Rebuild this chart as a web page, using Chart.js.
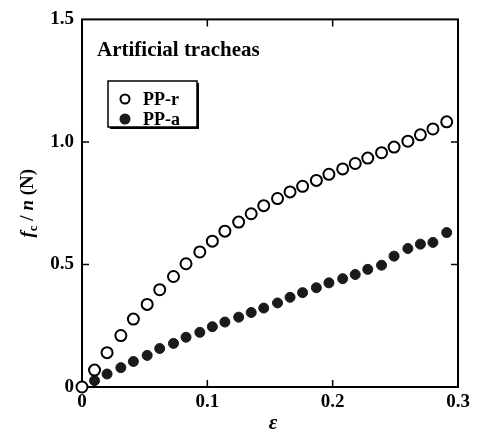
<!DOCTYPE html>
<html>
<head>
<meta charset="utf-8">
<script src="https://cdn.jsdelivr.net/npm/chart.js@4/dist/chart.umd.min.js"></script>
<style>
  html, body { margin: 0; padding: 0; background: #fff; }
  canvas { display: block; }
</style>
</head>
<body>
<canvas id="chart" width="478" height="434"></canvas>
<script>
// PP-r (open circles)
const strainR = [0, 0.010, 0.020, 0.031, 0.041, 0.052, 0.062, 0.073, 0.083, 0.094,
                 0.104, 0.114, 0.125, 0.135, 0.145, 0.156, 0.166, 0.176, 0.187, 0.197,
                 0.208, 0.218, 0.228, 0.239, 0.249, 0.260, 0.270, 0.280, 0.291];
const forceR = [0, 0.069, 0.140, 0.210, 0.277, 0.337, 0.397, 0.451, 0.503, 0.551,
                0.595, 0.636, 0.673, 0.707, 0.740, 0.769, 0.796, 0.819, 0.843, 0.868,
                0.890, 0.912, 0.934, 0.956, 0.979, 1.003, 1.029, 1.053, 1.082];
// PP-a (filled circles)
const strainA = [0.010, 0.020, 0.031, 0.041, 0.052, 0.062, 0.073, 0.083, 0.094,
                 0.104, 0.114, 0.125, 0.135, 0.145, 0.156, 0.166, 0.176, 0.187, 0.197,
                 0.208, 0.218, 0.228, 0.239, 0.249, 0.260, 0.270, 0.280, 0.291];
const forceA = [0.026, 0.053, 0.079, 0.104, 0.129, 0.157, 0.178, 0.203, 0.223,
                0.246, 0.265, 0.285, 0.304, 0.322, 0.343, 0.366, 0.385, 0.405, 0.425,
                0.442, 0.459, 0.480, 0.497, 0.534, 0.565, 0.583, 0.590, 0.630];

const xTicks = [0, 0.1, 0.2, 0.3];
const xTickLabels = ["0", "0.1", "0.2", "0.3"];
const yTicks = [0, 0.5, 1.0, 1.5];
const yTickLabels = ["0", "0.5", "1.0", "1.5"];

const serif = '"Liberation Serif", "DejaVu Serif", serif';
const tickFont = { family: serif, size: 19, weight: 'bold' };

function toPoints(xs, ys) {
    return xs.map((x, i) => ({ x: x, y: ys[i] }));
}

// frame + inward ticks, drawn under the markers
const framePlugin = {
    id: 'frame',
    beforeDatasetsDraw(chart) {
        const { ctx, chartArea: a, scales } = chart;
        ctx.save();
        ctx.strokeStyle = '#000';
        ctx.lineWidth = 2;
        ctx.strokeRect(a.left, a.top, a.right - a.left, a.bottom - a.top);
        ctx.lineWidth = 1.5;
        ctx.beginPath();
        xTicks.slice(1, -1).forEach(v => {
            const px = scales.x.getPixelForValue(v);
            ctx.moveTo(px, a.bottom); ctx.lineTo(px, a.bottom - 7);
            ctx.moveTo(px, a.top); ctx.lineTo(px, a.top + 7);
        });
        yTicks.slice(1, -1).forEach(v => {
            const py = scales.y.getPixelForValue(v);
            ctx.moveTo(a.left, py); ctx.lineTo(a.left + 7, py);
            ctx.moveTo(a.right, py); ctx.lineTo(a.right - 7, py);
        });
        ctx.stroke();
        ctx.restore();
    }
};

// annotation, legend box, axis titles
const textPlugin = {
    id: 'texts',
    afterDraw(chart) {
        const { ctx, chartArea: a } = chart;
        ctx.save();
        ctx.fillStyle = '#000';

        ctx.font = 'bold 21px ' + serif;
        ctx.textBaseline = 'alphabetic';
        ctx.fillText('Artificial tracheas', a.left + 15, 56);

        // legend box with shadow
        const bx = 108, by = 81, bw = 89, bh = 46;
        ctx.fillStyle = '#000';
        ctx.fillRect(bx + 2, by + 2, bw, bh);
        ctx.fillStyle = '#fff';
        ctx.fillRect(bx, by, bw, bh);
        ctx.strokeStyle = '#000';
        ctx.lineWidth = 1.5;
        ctx.strokeRect(bx, by, bw, bh);

        ctx.font = 'bold 18px ' + serif;
        ctx.textBaseline = 'middle';
        chart.data.datasets.forEach((ds, i) => {
            const cy = by + 18 + i * 20;
            ctx.beginPath();
            ctx.arc(bx + 17, cy, 4.5, 0, Math.PI * 2);
            ctx.fillStyle = ds.backgroundColor;
            ctx.fill();
            ctx.lineWidth = 2;
            ctx.strokeStyle = ds.borderColor;
            ctx.stroke();
            ctx.fillStyle = '#000';
            ctx.fillText(ds.label, bx + 35, cy + 1);
        });

        // x title
        ctx.font = 'italic bold 21px ' + serif;
        ctx.textAlign = 'center';
        ctx.textBaseline = 'alphabetic';
        ctx.fillText('\u03b5', (a.left + a.right) / 2 + 3, 429);

        // y title: f_c / n (N)
        const parts = [
            { t: 'f', f: 'italic bold 19px ' + serif, dy: 0 },
            { t: 'c', f: 'bold 13px ' + serif, dy: 4 },
            { t: ' / ', f: 'bold 19px ' + serif, dy: 0 },
            { t: 'n', f: 'italic bold 19px ' + serif, dy: 0 },
            { t: ' (N)', f: 'bold 19px ' + serif, dy: 0 }
        ];
        let total = 0;
        parts.forEach(p => { ctx.font = p.f; p.w = ctx.measureText(p.t).width; total += p.w; });
        ctx.translate(33, (a.top + a.bottom) / 2);
        ctx.rotate(-Math.PI / 2);
        ctx.textAlign = 'left';
        let x = -total / 2;
        parts.forEach(p => {
            ctx.font = p.f;
            ctx.fillText(p.t, x, p.dy);
            x += p.w;
        });
        ctx.restore();
    }
};

new Chart(document.getElementById('chart'), {
    type: 'scatter',
    data: {
        datasets: [
            {
                label: 'PP-r',
                data: toPoints(strainR, forceR),
                pointRadius: 5.5,
                pointBorderWidth: 2,
                backgroundColor: '#fff',
                borderColor: '#000',
                clip: false
            },
            {
                label: 'PP-a',
                data: toPoints(strainA, forceA),
                pointRadius: 5,
                pointBorderWidth: 1,
                backgroundColor: '#1a1a1a',
                borderColor: '#1a1a1a',
                clip: false
            }
        ]
    },
    options: {
        responsive: false,
        animation: false,
        events: [],
        layout: { padding: { top: 19, right: 20, left: 0, bottom: 0 } },
        plugins: { legend: { display: false }, tooltip: { enabled: false } },
        scales: {
            x: {
                type: 'linear',
                min: 0, max: 0.3,
                afterBuildTicks: s => { s.ticks = xTicks.map(v => ({ value: v })); },
                afterFit: s => { s.height = 47; },
                grid: { display: false, drawTicks: false },
                border: { display: false },
                ticks: {
                    color: '#000', font: tickFont, padding: 4, maxRotation: 0,
                    callback: (v) => xTickLabels[xTicks.indexOf(v)]
                }
            },
            y: {
                type: 'linear',
                min: 0, max: 1.5,
                afterBuildTicks: s => { s.ticks = yTicks.map(v => ({ value: v })); },
                afterFit: s => { s.width = 82; },
                grid: { display: false, drawTicks: false },
                border: { display: false },
                ticks: {
                    color: '#000', font: tickFont, padding: 8,
                    callback: (v) => yTickLabels[yTicks.indexOf(v)]
                }
            }
        }
    },
    plugins: [framePlugin, textPlugin]
});
</script>
</body>
</html>
